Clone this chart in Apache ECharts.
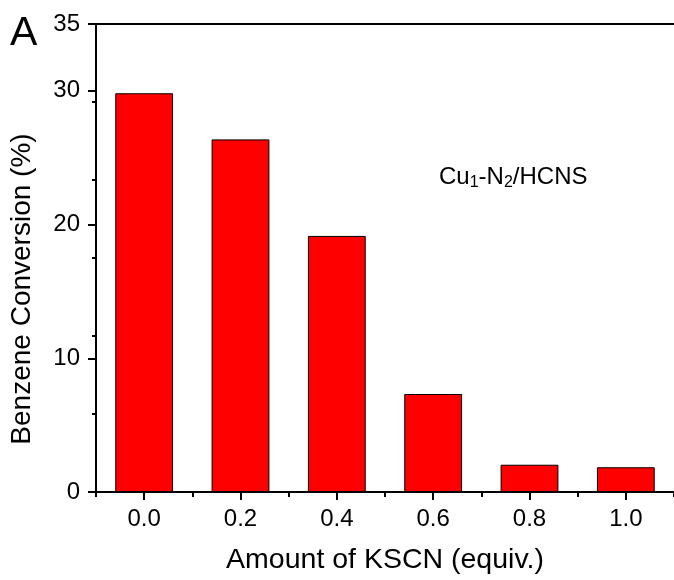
<!DOCTYPE html>
<html>
<head>
<meta charset="utf-8">
<script src="https://cdn.jsdelivr.net/npm/echarts@6/dist/echarts.min.js"></script>
<style>
html,body{margin:0;padding:0;background:#fff;}
#chart{width:674px;height:580px;}
</style>
</head>
<body>
<div id="chart"></div>
<script>
var categories = ['0.0', '0.2', '0.4', '0.6', '0.8', '1.0'];
var conversion = [29.82, 26.37, 19.15, 7.33, 2.04, 1.85];
var yMin = 0, yMax = 35, yMajor = 10, yMinor = 5;
var xTitle = 'Amount of KSCN (equiv.)';
var yTitle = 'Benzene Conversion (%)';
var panelLabel = 'A';

var FONT = '"Liberation Sans", Arial, sans-serif';
var chart = echarts.init(document.getElementById('chart'), null, {renderer: 'canvas'});
var lineStyle = {color: '#000', width: 2};
chart.setOption({
  animation: false,
  backgroundColor: '#fff',
  grid: {left: 94, top: 24, width: 581, height: 468, containLabel: false},
  xAxis: [
    {
      type: 'category', data: categories, position: 'bottom', boundaryGap: true,
      axisLine: {show: true, lineStyle: lineStyle},
      axisTick: {show: true, alignWithLabel: true, length: 8, lineStyle: lineStyle},
      axisLabel: {show: true, color: '#000', fontSize: 24, fontFamily: FONT, margin: 15},
      name: xTitle, nameLocation: 'middle', nameGap: 54,
      nameTextStyle: {color: '#000', fontSize: 28.5, fontFamily: FONT},
      splitLine: {show: false}
    },
    {
      type: 'category', data: categories, position: 'bottom', boundaryGap: true,
      axisLine: {show: false},
      axisTick: {show: true, alignWithLabel: false, length: 5, lineStyle: lineStyle},
      axisLabel: {show: false}, splitLine: {show: false}
    },
    {
      type: 'category', data: categories, position: 'top', boundaryGap: true,
      axisLine: {show: true, lineStyle: lineStyle},
      axisTick: {show: false}, axisLabel: {show: false}, splitLine: {show: false}
    }
  ],
  yAxis: [
    {
      type: 'value', min: yMin, max: yMax, interval: yMajor, position: 'left',
      axisLine: {show: true, lineStyle: lineStyle},
      axisTick: {show: true, length: 8, lineStyle: lineStyle},
      axisLabel: {show: true, color: '#000', fontSize: 24, fontFamily: FONT, margin: 16},
      splitLine: {show: false},
      name: yTitle, nameLocation: 'middle', nameGap: 60, nameRotate: 90,
      nameTextStyle: {color: '#000', fontSize: 28, fontFamily: FONT, padding: [0, 62, 0, 0]}
    },
    {
      type: 'value', min: yMin, max: yMax - yMinor, interval: yMinor, position: 'left',
      axisLine: {show: false},
      axisTick: {show: true, length: 4, lineStyle: lineStyle},
      axisLabel: {show: false}, splitLine: {show: false}
    }
  ],
  series: [{
    type: 'bar', xAxisIndex: 0, yAxisIndex: 0, data: conversion, barWidth: '60%',
    itemStyle: {color: '#ff0000', borderColor: '#000', borderWidth: 1}
  }],
  graphic: [
    {type: 'text', left: 10, top: 13, style: {text: panelLabel, fontSize: 41, fontFamily: FONT, fill: '#000'}},
    {type: 'text', left: 439, top: 163, style: {
      text: '{n|Cu}{s|1}{n|-N}{s|2}{n|/HCNS}', fill: '#000', fontFamily: FONT,
      rich: {
        n: {fontSize: 24, fontFamily: FONT, lineHeight: 28},
        s: {fontSize: 16, fontFamily: FONT, lineHeight: 16, padding: [12, 0, 0, 0]}
      }
    }}
  ]
});
</script>
</body>
</html>
